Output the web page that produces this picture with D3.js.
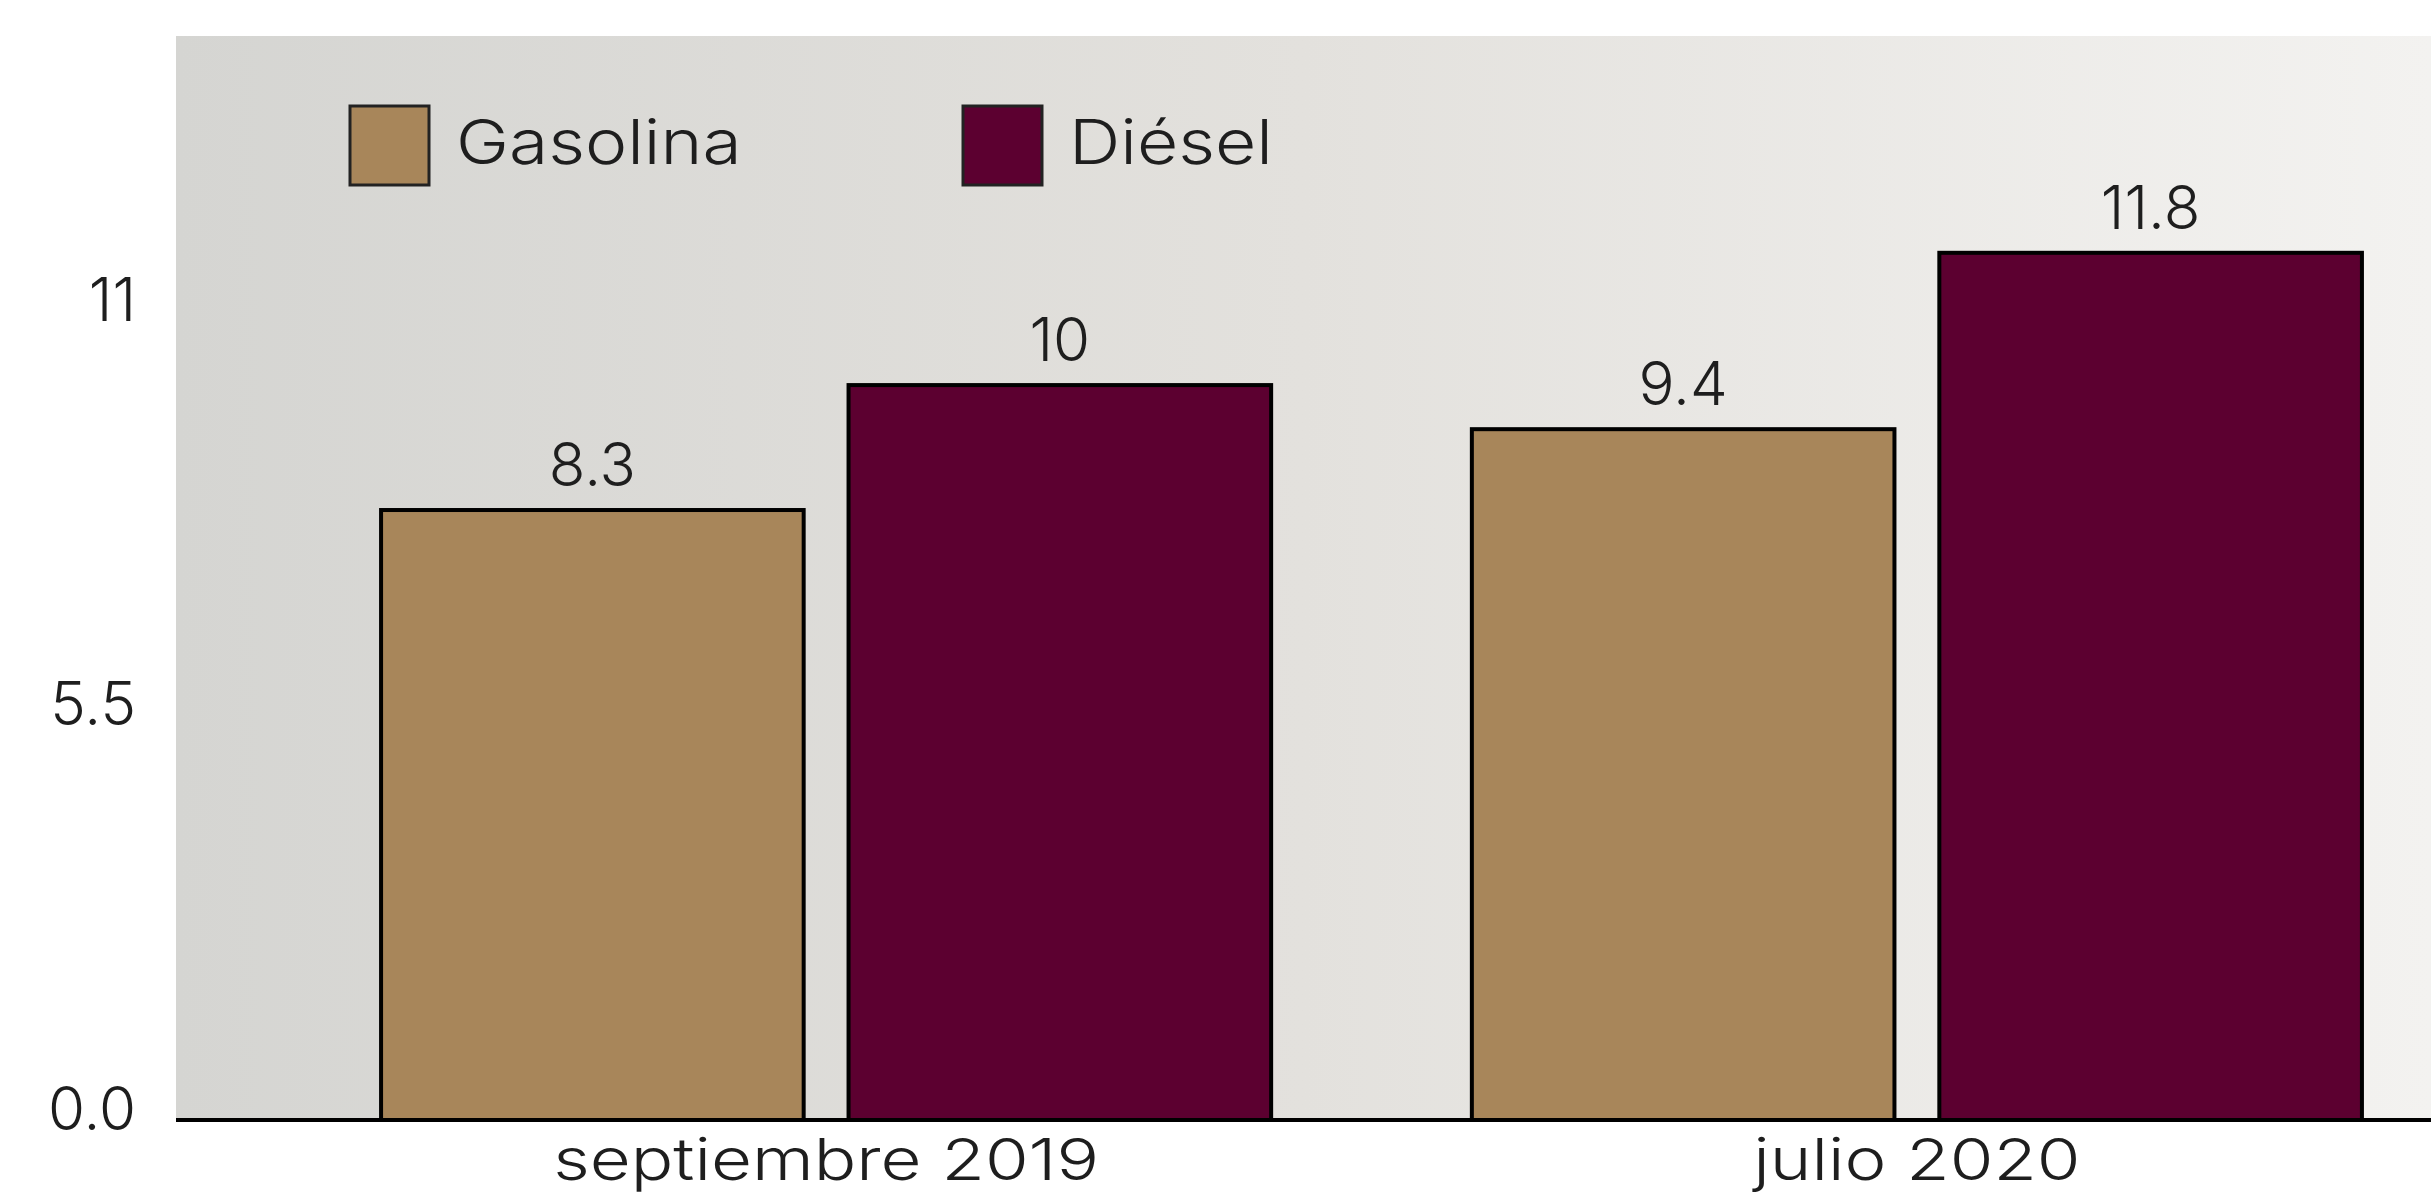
<!DOCTYPE html>
<html>
<head>
<meta charset="utf-8">
<script src="https://cdn.jsdelivr.net/npm/d3@7"></script>
<style>
  html, body { margin: 0; padding: 0; background: #ffffff; }
  svg { display: block; }
  text { font-family: Inter, "Open Sans", sans-serif; font-weight: 300; fill: #1e1e1e; }
</style>
</head>
<body>
<svg id="chart" width="2431" height="1197"></svg>
<script>
const categories = ["septiembre 2019", "julio 2020"];
const seriesNames = ["Gasolina", "Diésel"];
const gasolina = [8.3, 9.4];
const diesel = [10, 11.8];
const valueLabels = [["8.3", "9.4"], ["10", "11.8"]];
const yTicks = [0, 5.5, 11];
const yTickLabels = ["0.0", "5.5", "11"];
const colors = ["#a8865a", "#5c0030"];

const W = 2431, H = 1197;
const plotLeft = 176, plotTop = 36, baseY = 1120;
const wordStretch = 1.22;
const svg = d3.select("#chart");

const defs = svg.append("defs");
const grad = defs.append("linearGradient").attr("id", "bg").attr("x1", "0").attr("x2", "1").attr("y1", "0").attr("y2", "0");
grad.append("stop").attr("offset", "0").attr("stop-color", "#d5d5d2");
grad.append("stop").attr("offset", "0.5").attr("stop-color", "#e3e1dd");
grad.append("stop").attr("offset", "1").attr("stop-color", "#f3f2f0");

svg.append("rect").attr("x", plotLeft).attr("y", plotTop)
  .attr("width", W - plotLeft).attr("height", baseY - plotTop)
  .attr("fill", "url(#bg)");

const x0 = d3.scaleBand().domain(categories).range([plotLeft, 2567])
  .paddingInner(0.184).paddingOuter(0.188);
const x1 = d3.scaleBand().domain(seriesNames).range([0, x0.bandwidth()]).paddingInner(0.096);
const y = d3.scaleLinear().domain([0, 14.75]).range([baseY, plotTop]);

const data = categories.map((c, i) => ({
  cat: c,
  vals: [
    { s: seriesNames[0], v: gasolina[i], label: valueLabels[0][i], color: colors[0] },
    { s: seriesNames[1], v: diesel[i], label: valueLabels[1][i], color: colors[1] }
  ]
}));

const groups = svg.selectAll("g.grp").data(data).join("g")
  .attr("class", "grp")
  .attr("transform", d => `translate(${x0(d.cat)},0)`);

groups.selectAll("rect").data(d => d.vals).join("rect")
  .attr("x", d => x1(d.s))
  .attr("y", d => y(d.v))
  .attr("width", x1.bandwidth())
  .attr("height", d => baseY - y(d.v))
  .attr("fill", d => d.color)
  .attr("stroke", "#000")
  .attr("stroke-width", 4);

groups.selectAll("text.val").data(d => d.vals).join("text")
  .attr("class", "val")
  .attr("x", d => x1(d.s) + x1.bandwidth() / 2)
  .attr("y", d => y(d.v) - 24)
  .attr("text-anchor", "middle")
  .attr("font-size", 60)
  .text(d => d.label);

// category axis
const xAxis = d3.axisBottom(x0).tickSize(0).tickPadding(0);
const gx = svg.append("g").attr("transform", `translate(0,${baseY})`).call(xAxis);
gx.select(".domain").remove();
gx.selectAll("text").attr("font-size", 58).attr("dy", null).attr("y", 0)
  .attr("transform", `translate(0,60) scale(${wordStretch},1)`)
  .style("font-family", "Inter, sans-serif").style("font-weight", 300).attr("fill", "#1e1e1e");
svg.append("line").attr("x1", plotLeft).attr("x2", W).attr("y1", baseY).attr("y2", baseY)
  .attr("stroke", "#000").attr("stroke-width", 4);

// y axis labels
const yAxis = d3.axisLeft(y).tickValues(yTicks).tickSize(0).tickPadding(0)
  .tickFormat((d, i) => yTickLabels[i]);
const gy = svg.append("g").attr("transform", `translate(136,0)`).call(yAxis);
gy.select(".domain").remove();
gy.selectAll("text").attr("font-size", 60).attr("dy", "0.32em").attr("y", -10)
  .style("font-family", "Inter, sans-serif").style("font-weight", 300).attr("fill", "#1e1e1e");

// legend
const legendX = [350, 963];
const leg = svg.selectAll("g.leg").data(seriesNames).join("g").attr("class", "leg")
  .attr("transform", (d, i) => `translate(${legendX[i]},106)`);
leg.append("rect").attr("width", 79).attr("height", 79)
  .attr("fill", (d, i) => colors[i]).attr("stroke", "#222").attr("stroke-width", 3);
leg.append("text").attr("font-size", 62)
  .attr("transform", `translate(106,58) scale(1.15,1)`).text(d => d);
</script>
</body>
</html>
